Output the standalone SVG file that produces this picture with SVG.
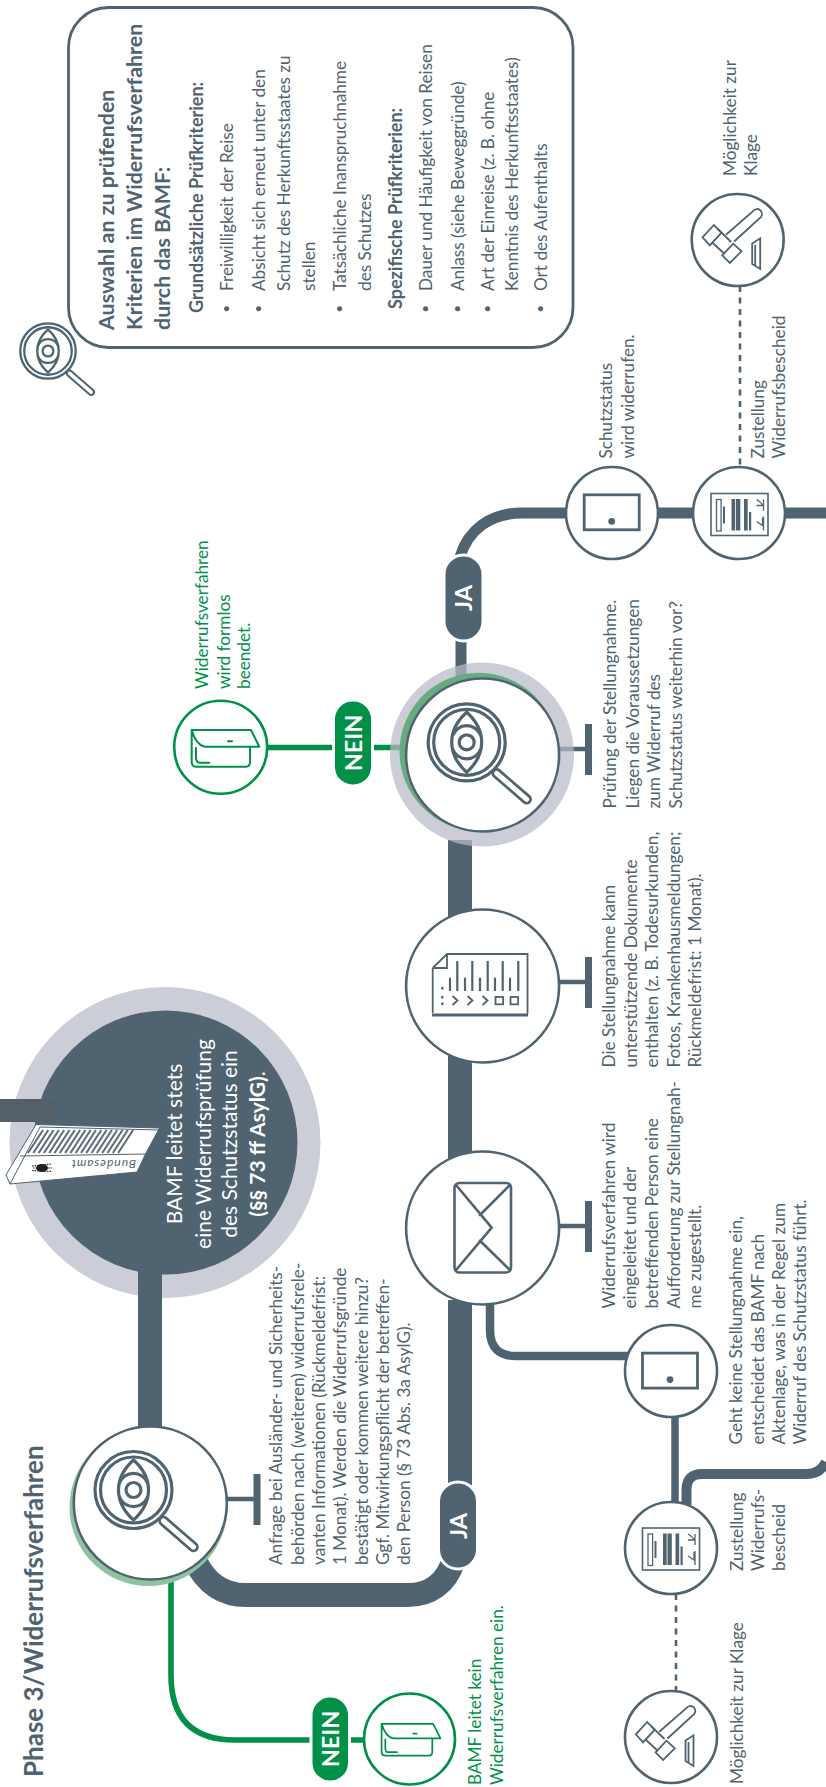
<svg xmlns="http://www.w3.org/2000/svg" width="826" height="1787" viewBox="0 0 826 1787">
<style>
text{font-family:"Lato","Source Sans Pro","Noto Sans",sans-serif;font-size:17.2px;fill:#4f6370}
.b{font-weight:700}
.sb{font-size:18px;font-weight:700}
.h{font-size:21.4px;font-weight:700}
.title{font-size:26px;font-weight:700}
.g{fill:#009048}
.w{fill:#fff}
.big{font-size:21px}
.dot{font-size:13px}
.pill{font-size:23.5px;font-weight:700;fill:#fff;text-anchor:middle}
.node{fill:#fff;stroke:#4f6370;stroke-width:2.6}
.gnode{fill:#fff;stroke:#009048;stroke-width:2.6}
.ic{fill:none;stroke:#4f6370;stroke-width:2.6;stroke-linecap:round;stroke-linejoin:round}
.ln{fill:none;stroke:#4f6370;stroke-width:3.2;stroke-linecap:round;stroke-linejoin:round}
.thin{fill:none;stroke:#4f6370;stroke-width:1.8}
.gic{fill:none;stroke:#009048;stroke-width:2;stroke-linecap:round;stroke-linejoin:round}
.rail{fill:none;stroke:#4f6370}
.grail{fill:none;stroke:#009048;stroke-width:5.6}
.dash{fill:none;stroke:#4f6370;stroke-width:2.6;stroke-dasharray:6 5.5}
.halo{fill:#b7bac7;fill-opacity:.72}
</style>
<defs>
<g id="lens">
<circle r="38.5" class="ln"/>
<circle r="33" class="ln"/>
<path class="ln" d="M0-30C-20-12-20 12 0 30C20 12 20-12 0-30Z"/>
<path class="ln" d="M-14-7A15 15 0 0 1 14-7M-14 7A15 15 0 0 0 14 7"/>
<circle r="7.500" class="ln"/>
<path d="M30 31L60 57" stroke="#4f6370" stroke-width="10.500" stroke-linecap="round" fill="none"/>
<path d="M30 31L60 57" stroke="#fff" stroke-width="5" stroke-linecap="round" fill="none"/>
</g>
<g id="tablet">
<rect x="-27.500" y="-17.500" width="55" height="35" fill="none" stroke="#4f6370" stroke-width="2.800"/>
<circle cx="0" cy="9" r="3.400" fill="#4f6370"/>
</g>
<g id="bescheid">
<rect x="-28.500" y="-21" width="57" height="42" fill="none" stroke="#4f6370" stroke-width="1.600"/>
<rect x="-23" y="-15" width="4.600" height="31.500" fill="none" stroke="#4f6370" stroke-width="1.300"/>
<path d="M-15.500-8V9" stroke="#4f6370" stroke-width="2" fill="none"/>
<path d="M-8-15.500h3.700v31.500h-3.700zM-3.500-15.500h4.300v31.500h-4.300zM4.500-15.500h3.700v31.500h-3.700zM9.500-2.500h2.200v18.500h-2.200z" fill="#4f6370"/>
<path d="M17-15q6 4 6 6h-6M24-15v11M17 7l6 4v-8M24 2v14" fill="none" stroke="#4f6370" stroke-width="1.300"/>
</g>
<g id="gavel">
<path d="M-35.200-2.700L-23.800-15L-16.200-7.300L-27.900 5.300ZM-15.500 15.300L-4.500 3.700L3.800 11.300L-7.900 23Z" class="thin"/>
<path d="M-20-11L-6.500 2M-26 2L-13 14" class="thin"/>
<path d="M-11.700-5.300L15-28.500A5 5 0 1 1 21.500-21.500L-3.500 1.500" class="thin"/>
<path d="M14.500 3.500L22.500-1.700V29L14.500 24ZM17.500 5V26" class="thin"/>
</g>
<g id="box">
<path class="gic" d="M191.700 730H251L259.300 746.700H205Q196 745 191.700 730V762Q191.700 766.700 196 766.700H246Q250 766.700 250 762V746.700"/>
<path class="gic" d="M196 748V758Q196 762.700 200 762.700H209.300M228 741.300H232"/>
</g>
</defs>

<g id="connectors">
<path class="rail" stroke-width="24" d="M150 1280V1430"/>
<path class="rail" stroke-width="24" d="M195 1560C206 1585 225 1595 246 1595H408C430 1595 446 1583 453 1562"/>
<path class="rail" stroke-width="24" d="M460 1300V1485"/>
<path class="rail" stroke-width="24" d="M460 840V1160"/>
<path class="rail" stroke-width="11" d="M461 640V690"/>
<path class="rail" stroke-width="11" d="M460 557C468 530 490 513 522 513H826"/>
<path class="rail" stroke-width="8.500" d="M490 1300V1330Q490 1356 516 1356H630"/>
<path class="rail" stroke-width="7.500" d="M675 1415V1505"/>
<path class="rail" stroke-width="10" d="M686.500 1505V1490Q686.500 1474 702 1474H806Q820 1474 826 1462"/>
<path class="dash" d="M740 286V466"/>
<path class="dash" d="M676 1594V1690"/>
<path class="rail" stroke-width="4.500" d="M226 1499H256M559 749H588M559 982H588M559 1226H588"/>
<path class="rail" stroke-width="7" d="M257 1474V1525M588.500 724V775M588.500 957V1008M588.500 1201V1252"/>
<path class="grail" d="M171 1575V1675Q171 1740 235 1740H320M349 1740H370"/>
<path class="grail" d="M265 747.500H340M370 747.500H410"/>
</g>

<g id="criteria-box">
<rect x="68.500" y="7.500" width="504.500" height="340" rx="40" fill="#fff" stroke="#4f6370" stroke-width="2.800"/>
<g transform="translate(0 330) rotate(-90)">
<text class="h" y="114">Auswahl an zu prüfenden</text>
<text class="h" y="142">Kriterien im Widerrufsverfahren</text>
<text class="h" y="170">durch das BAMF:</text>
</g>
<g transform="translate(0 313) rotate(-90)"><text class="sb" y="203">Grundsätzliche Prüfkriterien:</text></g>
<g transform="translate(0 309) rotate(-90)"><text class="sb" y="401.500">Spezifische Prüfkriterien:</text></g>
<g transform="translate(0 291) rotate(-90)">
<text y="233">Freiwilligkeit der Reise</text>
<text y="264.500">Absicht sich erneut unter den</text>
<text y="290">Schutz des Herkunftsstaates zu</text>
<text y="315">stellen</text>
<text y="346">Tatsächliche Inanspruchnahme</text>
<text y="371">des Schutzes</text>
<text y="432">Dauer und Häufigkeit von Reisen</text>
<text y="463.500">Anlass (siehe Beweggründe)</text>
<text y="494">Art der Einreise (z. B. ohne</text>
<text y="517.500">Kenntnis des Herkunftsstaates)</text>
<text y="547">Ort des Aufenthalts</text>
</g>
<g transform="translate(0 312.500) rotate(-90)">
<text class="dot" y="231">•</text><text class="dot" y="262.500">•</text><text class="dot" y="344">•</text><text class="dot" y="430">•</text><text class="dot" y="461.500">•</text><text class="dot" y="492">•</text><text class="dot" y="545">•</text>
</g>
</g>

<g id="search-icon"><use href="#lens" transform="translate(48 351) scale(.72)"/></g>

<g id="title"><g transform="translate(0 1777) rotate(-90)"><text class="title" y="43">Phase 3/Widerrufsverfahren</text></g></g>

<g id="start">
<circle cx="165" cy="1142.500" r="155.500" fill="#cbcdd7"/>
<path class="rail" stroke-width="24" d="M150 1270V1300"/>
<circle cx="165.500" cy="1142.500" r="132" fill="#4f6370"/>
<rect x="0" y="1099" width="56" height="23" fill="#555f68"/>
<path d="M6 1175L36 1124.500L159.500 1128L145.500 1154L137 1172L10 1184Z" fill="#fff" stroke="#4f6370" stroke-width="1"/>
<path d="M10 1184L40 1127L159.500 1130" fill="none" stroke="#4f6370" stroke-width="1"/>
<path d="M20 1156L145 1154" fill="none" stroke="#4f6370" stroke-width="1"/>
<path d="M43 1130L28 1153M48.300 1130L33.300 1153M53.600 1130L38.600 1153M58.900 1130L43.900 1153M64.200 1130L49.200 1153M69.500 1130L54.500 1153M74.800 1130L59.800 1153M80.100 1130L65.100 1153M85.400 1130L70.400 1153M90.700 1130L75.700 1153M96 1130L81 1153M101.300 1130L86.300 1153M106.600 1130L91.600 1153M111.900 1130L96.900 1153M117.200 1130L102.200 1153M122.500 1130L107.500 1153M127.800 1130L112.800 1153M133.100 1130L118.100 1153" stroke="#5a6b76" stroke-width="2" fill="none"/>
<ellipse cx="42" cy="1168" rx="6" ry="4" fill="#222"/>
<path d="M32 1166L52 1164M33 1168L53 1168M32 1170.500L52 1171.500" stroke="#222" stroke-width="1.200" stroke-dasharray="1.500 1" fill="none"/>
<text transform="translate(136 1160) rotate(180)" style="font-size:12px;font-style:italic;letter-spacing:1px">Bundesamt</text>
<g transform="translate(0 1144) rotate(-90)" text-anchor="middle">
<text class="w big" y="182">BAMF leitet stets</text>
<text class="w big" y="211">eine Widerrufsprüfung</text>
<text class="w big" y="237">des Schutzstatus ein</text>
<text class="w big" y="265"><tspan class="b">(§§ 73 ff AsylG)</tspan>.</text>
</g>
</g>

<g id="check-1">
<circle cx="148.500" cy="1507" r="79" fill="#8fc29f"/>
<circle class="node" cx="150.300" cy="1503" r="76.500"/>
<use href="#lens" transform="translate(133.500 1490)"/>
<g transform="translate(0 1565) rotate(-90)">
<text y="282">Anfrage bei Ausländer- und Sicherheits-</text>
<text y="303.500">behörden nach (weiteren) widerrufsrele-</text>
<text y="325">vanten Informationen (Rückmeldefrist:</text>
<text y="346">1 Monat). Werden die Widerrufsgründe</text>
<text y="368">bestätigt oder kommen weitere hinzu?</text>
<text y="389">Ggf. Mitwirkungspflicht der betreffen-</text>
<text y="410">den Person (§ 73 Abs. 3a AsylG).</text>
</g>
</g>

<g id="nein-1">
<rect x="311" y="1696" width="38.500" height="86" rx="19" fill="#009048" stroke="#fff" stroke-width="3"/>
<text class="pill" transform="translate(339 1739) rotate(-90)">NEIN</text>
</g>
<g id="end-1">
<circle class="gnode" cx="409.500" cy="1739" r="45.500"/>
<use href="#box" transform="translate(411 1739.700) scale(.87) translate(-225.500 -748.300)"/>
<g transform="translate(0 1785) rotate(-90)">
<text class="g" y="481">BAMF leitet kein</text>
<text class="g" y="503">Widerrufsverfahren ein.</text>
</g>
</g>

<g id="ja-1">
<rect x="438.500" y="1482" width="39" height="87" rx="19.500" fill="#4f6370" stroke="#fff" stroke-width="3"/>
<text class="pill" transform="translate(467 1526) rotate(-90)">JA</text>
</g>

<g id="envelope">
<circle class="node" cx="482.600" cy="1228" r="76.500"/>
<rect x="454.500" y="1183" width="56.500" height="89.500" rx="5" class="ic"/>
<path class="ic" d="M456 1185L491.700 1227.700L456 1270M510 1185L480 1215M510 1270L480 1240.700"/>
<g transform="translate(0 1308.500) rotate(-90)">
<text y="615">Widerrufsverfahren wird</text>
<text y="636">eingeleitet und der</text>
<text y="657.500">betreffenden Person eine</text>
<text y="680">Aufforderung zur Stellungnah-</text>
<text y="701">me zugestellt.</text>
</g>
</g>

<g id="documents">
<circle class="node" cx="482.600" cy="986" r="76.500"/>
<path class="thin" d="M432.700 968L447 954H527.500V1014M432.700 968H447V954M432.700 968V1013"/>
<path d="M432 1015H528" stroke="#4f6370" stroke-width="3" fill="none"/>
<path d="M457.300 961V991M472.300 961V991M487.700 961V991M502.700 961V991M518.300 961V991M450 977.700V991M465 977.700V991M480 977.700V991M495 977.700V991M510 977.700V991" stroke="#4f6370" stroke-width="2.200" fill="none"/>
<path d="M442.300 987v2.400M442.300 996v2.400M442.300 1002.500v2.400" stroke="#4f6370" stroke-width="2.200" fill="none"/>
<path d="M452.500 996l5 4.500l-5 4.500M467.500 996l5 4.500l-5 4.500M482.500 996l5 4.500l-5 4.500" class="thin"/>
<rect x="495.500" y="997" width="7.600" height="7.300" class="thin"/>
<rect x="510.500" y="997" width="7.600" height="7.300" class="thin"/>
<g transform="translate(0 1067.500) rotate(-90)">
<text y="615">Die Stellungnahme kann</text>
<text y="636.500">unterstützende Dokumente</text>
<text y="658">enthalten (z. B. Todesurkunden,</text>
<text y="680">Fotos, Krankenhausmeldungen;</text>
<text y="701">Rückmeldefrist: 1 Monat).</text>
</g>
</g>

<g id="check-2">
<circle class="halo" cx="482" cy="754.500" r="92"/>
<circle cx="478.500" cy="751.700" r="79" fill="#6aaa80"/>
<circle class="node" cx="482.600" cy="755" r="76.500"/>
<use href="#lens" transform="translate(466.700 742.300)"/>
<g transform="translate(0 808.500) rotate(-90)">
<text y="616">Prüfung der Stellungnahme.</text>
<text y="638.500">Liegen die Voraussetzungen</text>
<text y="660">zum Widerruf des</text>
<text y="682">Schutzstatus weiterhin vor?</text>
</g>
</g>

<g id="nein-2">
<rect x="333.500" y="700" width="39" height="86" rx="19" fill="#009048" stroke="#fff" stroke-width="3"/>
<text class="pill" transform="translate(362 743) rotate(-90)">NEIN</text>
</g>
<g id="end-2">
<circle class="gnode" cx="220.700" cy="747.300" r="46.500"/>
<use href="#box"/>
<g transform="translate(0 689) rotate(-90)">
<text class="g" y="208">Widerrufsverfahren</text>
<text class="g" y="230">wird formlos</text>
<text class="g" y="250">beendet.</text>
</g>
</g>

<g id="ja-2">
<rect x="444" y="555" width="39" height="86" rx="19.500" fill="#4f6370" stroke="#fff" stroke-width="3"/>
<text class="pill" transform="translate(472 598) rotate(-90)">JA</text>
</g>

<g id="revoked-1">
<circle class="node" cx="612" cy="513" r="46"/>
<use href="#tablet" transform="translate(611.700 512.300)"/>
<g transform="translate(0 458.500) rotate(-90)">
<text y="612">Schutzstatus</text>
<text y="634">wird widerrufen.</text>
</g>
</g>

<g id="notice-1">
<circle class="node" cx="739" cy="513" r="46"/>
<use href="#bescheid" transform="translate(739.500 514.500)"/>
<g transform="translate(0 458.500) rotate(-90)">
<text y="764">Zustellung</text>
<text y="785">Widerrufsbescheid</text>
</g>
</g>

<g id="court-1">
<circle class="node" cx="737.700" cy="240" r="46"/>
<use href="#gavel" transform="translate(737.700 240)"/>
<g transform="translate(0 176) rotate(-90)">
<text y="736">Möglichkeit zur</text>
<text y="757">Klage</text>
</g>
</g>

<g id="revoked-2">
<circle class="node" cx="671" cy="1371" r="46"/>
<use href="#tablet" transform="translate(670 1370.600)"/>
<g transform="translate(0 1444.500) rotate(-90)">
<text y="742">Geht keine Stellungnahme ein,</text>
<text y="763.500">entscheidet das BAMF nach</text>
<text y="785">Aktenlage, was in der Regel zum</text>
<text y="806">Widerruf des Schutzstatus führt.</text>
</g>
</g>

<g id="notice-2">
<circle class="node" cx="671" cy="1548" r="46"/>
<use href="#bescheid" transform="translate(671 1549)"/>
<g transform="translate(0 1571) rotate(-90)">
<text y="743">Zustellung</text>
<text y="764">Widerrufs-</text>
<text y="785">bescheid</text>
</g>
</g>

<g id="court-2">
<circle class="node" cx="671" cy="1737" r="46"/>
<use href="#gavel" transform="translate(671 1737)"/>
<g transform="translate(0 1784) rotate(-90)">
<text y="743">Möglichkeit zur Klage</text>
</g>
</g>
</svg>
